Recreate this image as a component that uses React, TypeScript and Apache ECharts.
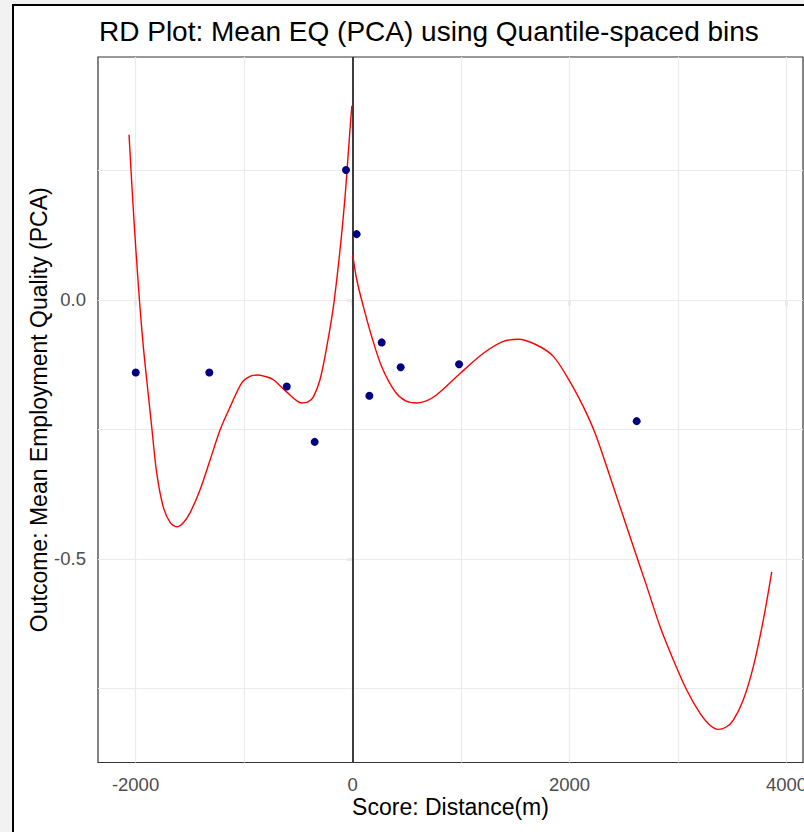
import React, { useEffect, useRef } from "react";
import * as echarts from "echarts";

const titleText = "RD Plot: Mean EQ (PCA) using Quantile-spaced bins";
const xAxisTitle = "Score: Distance(m)";
const yAxisTitle = "Outcome: Mean Employment Quality (PCA)";

// binned means (dots)
const binX = [-1998, -1320, -606, -349, -60, 38, 155, 269, 444, 982, 2619];
const binY = [-0.14, -0.14, -0.167, -0.274, 0.251, 0.127, -0.185, -0.082, -0.13, -0.124, -0.234];

// fitted polynomial, left of cutoff
const leftX = [-2060, -2026, -1995, -1959, -1928, -1897, -1851, -1805, -1744, -1680, -1620, -1560, -1498, -1406, -1313, -1221, -1129, -1021, -940, -868, -800, -730, -606, -468, -410, -361, -300, -238, -177, -115, -69, -39, -17, -6];
const leftY = [0.319, 0.193, 0.091, -0.014, -0.091, -0.154, -0.245, -0.334, -0.4, -0.43, -0.438, -0.43, -0.411, -0.367, -0.309, -0.251, -0.207, -0.16, -0.147, -0.145, -0.148, -0.154, -0.178, -0.199, -0.197, -0.187, -0.154, -0.091, -0.014, 0.097, 0.199, 0.284, 0.347, 0.375];

// fitted polynomial, right of cutoff
const rightX = [2, 39, 100, 177, 269, 392, 490, 592, 680, 776, 991, 1206, 1390, 1528, 1698, 1851, 2005, 2127, 2235, 2343, 2465, 2588, 2712, 2835, 2957, 3080, 3203, 3290, 3371, 3440, 3510, 3602, 3694, 3786, 3864];
const rightY = [0.087, 0.039, -0.013, -0.071, -0.129, -0.177, -0.195, -0.199, -0.195, -0.183, -0.142, -0.103, -0.08, -0.076, -0.087, -0.109, -0.158, -0.206, -0.257, -0.322, -0.399, -0.476, -0.553, -0.631, -0.695, -0.753, -0.798, -0.82, -0.829, -0.825, -0.811, -0.772, -0.708, -0.618, -0.525];

const xTickValues = [-2000, 0, 2000, 4000];
const xGridValues = [-2000, -1000, 0, 1000, 2000, 3000, 4000];
const yTickValues = [-0.5, 0.0];
const yGridValues = [-0.75, -0.5, -0.25, 0.0, 0.25];
const cutoff = 0;

const xMin = -2346;
const xMax = 4152;
const yMin = -0.893;
const yMax = 0.469;

export default function App() {
  const ref = useRef<HTMLDivElement>(null);
  useEffect(() => {
    if (!ref.current) return;
    const chart = echarts.init(ref.current, null, { renderer: "svg" });
    const font = "'Liberation Sans', Arial, sans-serif";
    const gridLineStyle = { color: "#ebebeb", width: 1.2, type: "solid" as const };
    chart.setOption({
      animation: false,
      backgroundColor: "#f2f2f2",
      textStyle: { fontFamily: font },
      graphic: [
        { type: "rect", z: -10, shape: { x: 13, y: 5, width: 800, height: 840 }, style: { fill: "#ffffff", stroke: "#000000", lineWidth: 2 } },
      ],
      title: {
        text: titleText,
        left: 94,
        top: 12,
        textStyle: { fontFamily: font, fontSize: 28, fontWeight: "normal", color: "#000000" },
      },
      grid: {
        left: 98,
        top: 57,
        width: 705,
        height: 705.5,
        containLabel: false,
        outerBoundsMode: "none",
        show: true,
        backgroundColor: "#ffffff",
        borderColor: "#333333",
        borderWidth: 1.2,
      },
      xAxis: {
        type: "value",
        min: xMin,
        max: xMax,
        name: xAxisTitle,
        nameLocation: "middle",
        nameGap: 33,
        nameMoveOverlap: false,
        nameTextStyle: { fontFamily: font, fontSize: 23, color: "#000000" },
        axisLine: { show: false },
        splitLine: { show: false },
        axisTick: { show: true, customValues: xTickValues, length: 6, lineStyle: { color: "#333333", width: 1.2 } },
        axisLabel: {
          customValues: xTickValues,
          fontFamily: font,
          fontSize: 18.5,
          color: "#4d4d4d",
          margin: 12,
          hideOverlap: false,
          formatter: (v: number) => String(v),
        },
      },
      yAxis: {
        type: "value",
        min: yMin,
        max: yMax,
        name: yAxisTitle,
        nameLocation: "middle",
        nameGap: 48,
        nameMoveOverlap: false,
        nameTextStyle: { fontFamily: font, fontSize: 23, color: "#000000" },
        axisLine: { show: false },
        splitLine: { show: false },
        axisTick: { show: true, customValues: yTickValues, length: 6, lineStyle: { color: "#333333", width: 1.2 } },
        axisLabel: {
          customValues: yTickValues,
          fontFamily: font,
          fontSize: 18.5,
          color: "#4d4d4d",
          margin: 12,
          formatter: (v: number) => v.toFixed(1),
        },
      },
      series: [
        {
          type: "line",
          data: [],
          z: 1,
          silent: true,
          markLine: {
            z: 1,
            silent: true,
            symbol: "none",
            label: { show: false },
            lineStyle: gridLineStyle,
            emphasis: { disabled: true },
            data: [
              ...xGridValues.map((v) => ({ xAxis: v })),
              ...yGridValues.map((v) => ({ yAxis: v })),
            ],
          },
        },
        {
          type: "line",
          data: [],
          z: 3,
          silent: true,
          markLine: {
            z: 3,
            silent: true,
            symbol: "none",
            label: { show: false },
            lineStyle: { color: "#000000", width: 1.5, type: "solid" },
            emphasis: { disabled: true },
            data: [{ xAxis: cutoff }],
          },
        },
        {
          type: "line",
          data: leftX.map((x, i) => [x, leftY[i]]),
          smooth: 0.3,
          showSymbol: false,
          z: 4,
          lineStyle: { color: "#ff0000", width: 1.4 },
        },
        {
          type: "line",
          data: rightX.map((x, i) => [x, rightY[i]]),
          smooth: 0.3,
          showSymbol: false,
          z: 4,
          lineStyle: { color: "#ff0000", width: 1.4 },
        },
        {
          type: "scatter",
          data: binX.map((x, i) => [x, binY[i]]),
          symbolSize: 8,
          z: 6,
          itemStyle: { color: "#000080", opacity: 1 },
        },
      ],
    });
    return () => chart.dispose();
  }, []);
  return (
    <div
      ref={ref}
      style={{ position: "absolute", left: 0, top: 0, width: 804, height: 832 }}
    />
  );
}
